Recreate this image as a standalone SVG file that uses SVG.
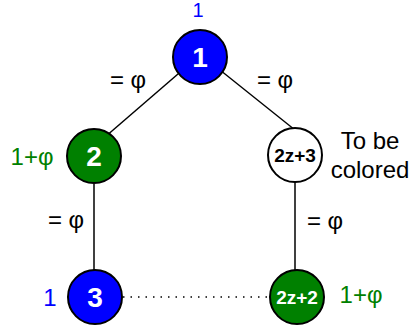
<svg xmlns="http://www.w3.org/2000/svg" width="413" height="328" viewBox="0 0 413 328">
<style>
.n{stroke:#000;stroke-width:2}
.blue{fill:#0000FF}
.green{fill:#008000}
.white{fill:#FFFFFF}
.nt{font-family:"Liberation Sans",Arial,sans-serif;font-weight:bold;fill:#FFFFFF;text-anchor:middle}
.lb{font-family:"Liberation Sans",Arial,sans-serif;font-size:24px;text-anchor:middle}
.e{stroke:#000;stroke-width:1.5;fill:none}
</style>
<rect width="413" height="328" fill="#FFFFFF"/>
<g id="connectors">
<line class="e" x1="200" y1="55" x2="105" y2="137"/>
<line class="e" x1="200" y1="54" x2="295" y2="130"/>
<line class="e" x1="94" y1="184" x2="94" y2="270"/>
<line class="e" x1="295" y1="182" x2="295" y2="270"/>
<line class="e" x1="123" y1="297" x2="270" y2="297" stroke-dasharray="1.5 6"/>
</g>
<g id="node1">
<circle class="n blue" cx="200" cy="57" r="27"/>
<text class="nt" x="200" y="67" font-size="28">1</text>
<text class="lb blue" x="198" y="17" style="font-size:20px">1</text>
</g>
<g id="node2">
<circle class="n green" cx="94" cy="156" r="27"/>
<text class="nt" x="94" y="166" font-size="28">2</text>
<text class="lb green" x="32" y="165">1+φ</text>
</g>
<g id="node2z3">
<circle class="n white" cx="295" cy="155" r="27"/>
<text class="nt" x="295" y="162" font-size="19" style="fill:#000000">2z+3</text>
<text class="lb" x="370" y="149" fill="#000000">To be</text>
<text class="lb" x="370" y="178" fill="#000000">colored</text>
</g>
<g id="node3">
<circle class="n blue" cx="95" cy="297" r="27"/>
<text class="nt" x="95" y="307" font-size="28">3</text>
<text class="lb blue" x="50" y="306">1</text>
</g>
<g id="node2z2">
<circle class="n green" cx="297" cy="297" r="27"/>
<text class="nt" x="297" y="304" font-size="19">2z+2</text>
<text class="lb green" x="361" y="303">1+φ</text>
</g>
<g id="edge-labels">
<text class="lb" x="128" y="88" fill="#000000">= φ</text>
<text class="lb" x="275" y="88" fill="#000000">= φ</text>
<text class="lb" x="66" y="228" fill="#000000">= φ</text>
<text class="lb" x="325" y="229" fill="#000000">= φ</text>
</g>
</svg>
